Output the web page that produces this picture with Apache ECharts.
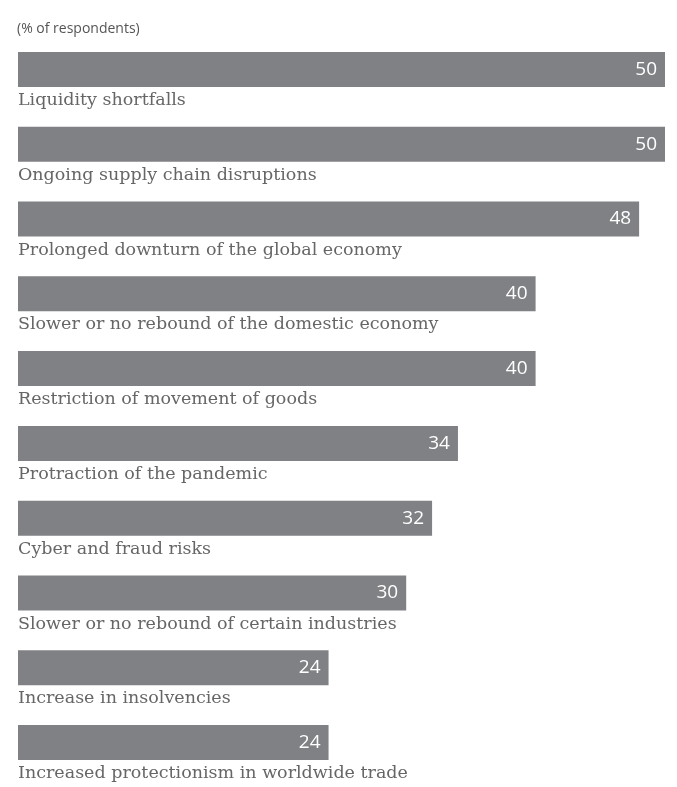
<!DOCTYPE html>
<html>
<head>
<meta charset="utf-8">
<script src="https://cdn.jsdelivr.net/npm/echarts@6/dist/echarts.min.js"></script>
<style>
  html, body { margin: 0; padding: 0; background: #ffffff; }
  #chart { width: 677px; height: 787px; }
</style>
</head>
<body>
<div id="chart"></div>
<script>
// Survey concerns, share of respondents (%)
const categories = [
  'Liquidity shortfalls',
  'Ongoing supply chain disruptions',
  'Prolonged downturn of the global economy',
  'Slower or no rebound of the domestic economy',
  'Restriction of movement of goods',
  'Protraction of the pandemic',
  'Cyber and fraud risks',
  'Slower or no rebound of certain industries',
  'Increase in insolvencies',
  'Increased protectionism in worldwide trade'
];
const values = [50, 50, 48, 40, 40, 34, 32, 30, 24, 24];
const unitNote = '(% of respondents)';

const chart = echarts.init(document.getElementById('chart'), null, { renderer: 'canvas' });

chart.setOption({
  animation: false,
  backgroundColor: '#ffffff',
  title: {
    text: unitNote,
    left: 17,
    top: 22,
    padding: 0,
    textStyle: {
      fontFamily: 'Open Sans',
      fontSize: 14,
      fontWeight: 'normal',
      color: '#555555'
    }
  },
  grid: { left: 18, right: 12, top: 32, height: 748, containLabel: false },
  xAxis: {
    type: 'value',
    min: 0,
    max: 50,
    show: false
  },
  yAxis: {
    type: 'category',
    data: categories,
    inverse: true,
    axisLine: { show: false },
    axisTick: { show: false },
    splitLine: { show: false },
    axisLabel: {
      inside: true,
      margin: 0,
      align: 'left',
      verticalAlign: 'top',
      padding: [21, 0, 0, 0],
      lineHeight: 20,
      fontFamily: 'DejaVu Serif',
      fontSize: 17.5,
      color: '#666666'
    }
  },
  series: [{
    type: 'bar',
    data: values,
    barWidth: 35,
    itemStyle: { color: '#808184' },
    label: {
      show: true,
      position: 'insideRight',
      distance: 8,
      fontFamily: 'Open Sans',
      fontSize: 19,
      color: '#ffffff'
    }
  }]
});
</script>
</body>
</html>
